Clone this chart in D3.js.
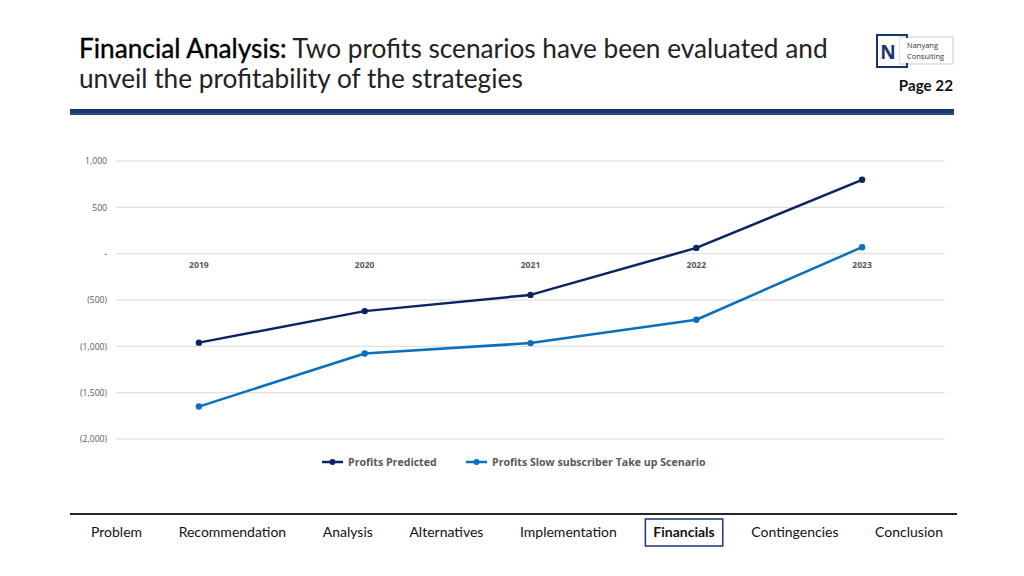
<!DOCTYPE html>
<html><head><meta charset="utf-8">
<script src="https://cdn.jsdelivr.net/npm/d3@7/dist/d3.min.js"></script>
<style>
html,body{margin:0;padding:0;background:#fff;}
svg{display:block;}
</style></head>
<body>
<svg id="c" width="1024" height="576"></svg>
<script>
const years = ["2019","2020","2021","2022","2023"];
const profitsPredicted = [-960, -620, -445, 62, 797];
const profitsSlow = [-1650, -1077, -965, -713, 70];
const yTicks = [1000, 500, 0, -500, -1000, -1500, -2000];
const seriesNames = ["Profits Predicted", "Profits Slow subscriber Take up Scenario"];
const seriesColors = ["#0C2461", "#0A70BE"];
const navItems = ["Problem","Recommendation","Analysis","Alternatives","Implementation","Financials","Contingencies","Conclusion"];
const activeNav = "Financials";

const svg = d3.select("#c");
const titleFont = "Lato, 'Liberation Sans', sans-serif";
const chartFont = "'Open Sans', 'DejaVu Sans', sans-serif";

// Title
const t1 = svg.append("text").attr("x",79).attr("y",58).attr("font-family",titleFont)
  .attr("font-size",25).attr("fill","#222");
t1.append("tspan").text("Financial Analysis:").attr("fill","#000").attr("stroke","#000").attr("stroke-width",0.35);
t1.append("tspan").text(" Two profits scenarios have been evaluated and");
const t2 = svg.append("text").attr("x",79).attr("y",88).attr("font-family",titleFont)
  .attr("font-size",25).attr("fill","#222").text("unveil the profitability of the strategies");
const w1 = t1.node().getComputedTextLength();
const scale = 749 / w1;
t1.attr("font-size", 25*scale); t2.attr("font-size", 25*scale);

// header bar
svg.append("rect").attr("x",70).attr("y",109).attr("width",884).attr("height",6).attr("fill","#1B3570");
svg.append("rect").attr("x",70).attr("y",113).attr("width",884).attr("height",1.5).attr("fill","#4A66A0").attr("opacity",0.6);

// logo
svg.append("rect").attr("x",900).attr("y",37).attr("width",53).attr("height",27).attr("fill","#fff").attr("stroke","#bbb").attr("stroke-width",0.8);
svg.append("rect").attr("x",877).attr("y",35).attr("width",30).attr("height",32).attr("fill","none").attr("stroke","#1B3570").attr("stroke-width",2);
svg.append("rect").attr("x",900).attr("y",38).attr("width",52).attr("height",25).attr("fill","#fff");
svg.append("text").attr("x",888).attr("y",59).attr("text-anchor","middle").attr("font-family",chartFont).attr("font-weight","700").attr("font-size",19).attr("fill","#1B3570").text("N");
svg.append("text").attr("x",907).attr("y",48).attr("font-family",chartFont).attr("font-size",7.5).attr("fill","#333").text("Nanyang");
svg.append("text").attr("x",907).attr("y",59).attr("font-family",chartFont).attr("font-size",7.5).attr("fill","#333").text("Consulting");
svg.append("text").attr("x",953).attr("y",91).attr("text-anchor","end").attr("font-family",titleFont).attr("font-weight","700").attr("font-size",15.2).attr("fill","#111").text("Page 22");

// chart
const x = d3.scaleBand().domain(years).range([116,945]);
const y = d3.scaleLinear().domain([-2000,1000]).range([439,161]);

const grid = svg.append("g");
grid.selectAll("line").data(yTicks).join("line")
  .attr("x1",116).attr("x2",945).attr("y1",d=>y(d)).attr("y2",d=>y(d))
  .attr("stroke","#D9D9D9").attr("stroke-width",1);

const fmt = d => d === 0 ? "-" : (d < 0 ? "(" + d3.format(",")(-d) + ")" : d3.format(",")(d));
const yAxis = d3.axisLeft(y).tickValues(yTicks).tickFormat(fmt).tickSize(0).tickPadding(0);
const ya = svg.append("g").attr("transform","translate(107,0)").call(yAxis);
ya.select(".domain").remove();
ya.selectAll("text").attr("font-family",chartFont).attr("font-size",8.6).attr("fill","#595959");

const xAxis = d3.axisBottom(x).tickSize(0).tickPadding(0);
const xa = svg.append("g").attr("transform","translate(0,262)").call(xAxis);
xa.select(".domain").remove();
xa.selectAll("text").attr("font-family",chartFont).attr("font-size",8.6).attr("font-weight","700").attr("fill","#595959");

const series = [profitsPredicted, profitsSlow];
const line = d3.line().x((d,i)=>x(years[i])+x.bandwidth()/2).y(d=>y(d));
series.forEach((s,k)=>{
  svg.append("path").attr("d",line(s)).attr("fill","none").attr("stroke",seriesColors[k]).attr("stroke-width",2.5).attr("stroke-linejoin","round");
  svg.append("g").selectAll("circle").data(s).join("circle")
    .attr("cx",(d,i)=>x(years[i])+x.bandwidth()/2).attr("cy",d=>y(d)).attr("r",3.2).attr("fill",seriesColors[k]);
});

// legend
const legX = [322, 466];
seriesNames.forEach((n,k)=>{
  const g = svg.append("g").attr("transform",`translate(${legX[k]},462)`);
  g.append("line").attr("x1",0).attr("x2",21).attr("stroke",seriesColors[k]).attr("stroke-width",2.5);
  g.append("circle").attr("cx",10.5).attr("r",3).attr("fill",seriesColors[k]);
  g.append("text").attr("x",26).attr("y",3.9).attr("font-family",chartFont).attr("font-size",10.6).attr("font-weight","700").attr("fill","#595959").text(n);
});

// nav bar
svg.append("line").attr("x1",70).attr("x2",957).attr("y1",514).attr("y2",514).attr("stroke","#262626").attr("stroke-width",2);
const nav = svg.append("g");
const navTexts = nav.selectAll("text").data(navItems).join("text")
  .attr("y",537).attr("font-family",titleFont).attr("font-size",14)
  .attr("font-weight",d=>d===activeNav?"700":"400").attr("fill","#111").text(d=>d);
const widths = navTexts.nodes().map(n=>n.getComputedTextLength());
const total = d3.sum(widths);
const gap = (943-91-total)/(navItems.length-1);
let cx = 91;
navTexts.each(function(d,i){
  d3.select(this).attr("x",cx);
  if(d===activeNav){
    nav.append("rect").attr("x",cx-8).attr("y",519).attr("width",widths[i]+16).attr("height",27)
      .attr("fill","none").attr("stroke","#1B3570").attr("stroke-width",1.5);
  }
  cx += widths[i]+gap;
});
</script>
</body></html>
